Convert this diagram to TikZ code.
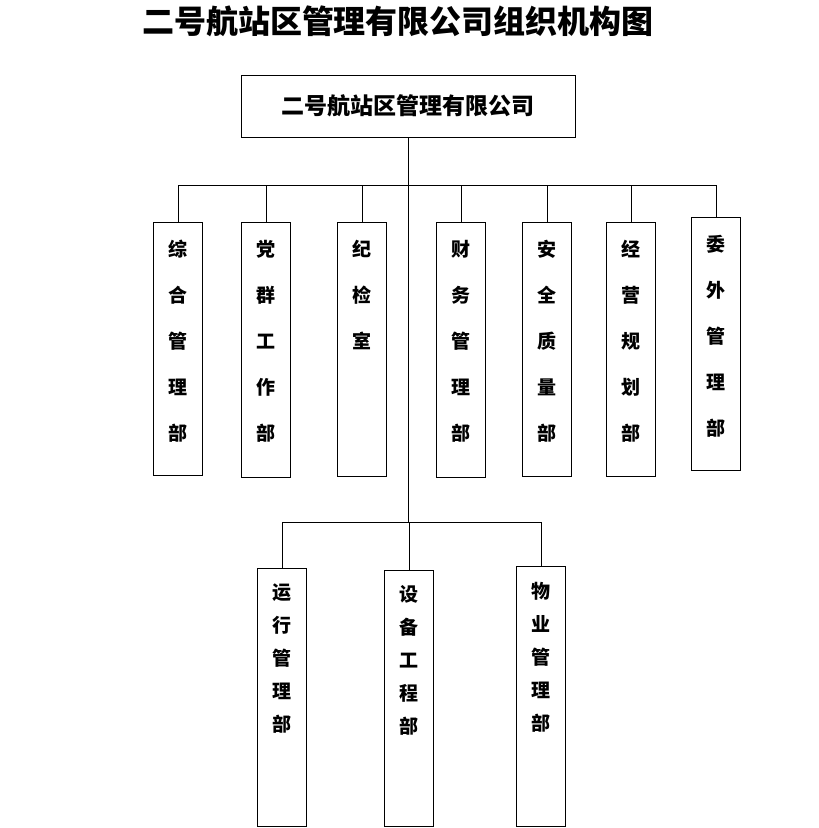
\documentclass[tikz,border=0pt]{standalone}
\usepackage{fontspec}
\newfontfamily\cjk{Noto Sans CJK SC}
\begin{document}
\begin{tikzpicture}[x=1pt,y=-1pt,line width=1pt,
  dept/.style={draw,minimum width=49pt,anchor=north,inner sep=0pt},
  vt/.style={anchor=north,align=center,font=\cjk\fontsize{19}{#1}\selectfont\bfseries}]
\useasboundingbox (0,0) rectangle (819,828);
\node[font=\cjk\fontsize{32}{34}\selectfont\bfseries] (title) at (398,21) {二号航站区管理有限公司组织机构图};
\node[draw,minimum width=334pt,minimum height=62pt,font=\cjk\fontsize{23}{26}\selectfont\bfseries] (top) at (408,106) {二号航站区管理有限公司};
\coordinate (b2) at (408,522);
\draw (top.south) -- (b2);
\draw (178,185) -- (716,185);
\draw (282,522) -- (541,522);
\foreach \n/\x/\t/\h/\txt in {d1/178/222/253/综\\合\\管\\理\\部, d2/266/222/255/党\\群\\工\\作\\部, d3/362/222/254/纪\\检\\室, d4/461/222/255/财\\务\\管\\理\\部, d5/547/222/254/安\\全\\质\\量\\部, d6/631/222/254/经\\营\\规\\划\\部, d7/716/217/253/委\\外\\管\\理\\部}{
  \node[dept,minimum height=\h pt] (\n) at (\x,\t) {};
  \node[vt=46pt] (\n t) at (\x,\t+14) {\txt};
  \draw (\x,185) -- (\n.north);
}
\foreach \n/\x/\t/\txt in {e1/282/568/运\\行\\管\\理\\部, e2/409/570/设\\备\\工\\程\\部, e3/541/566/物\\业\\管\\理\\部}{
  \node[dept,minimum height={826-\t}] (\n) at (\x,\t) {};
  \node[vt=33pt] (\n t) at (\x,\t+12) {\txt};
  \draw (\x,522) -- (\n.north);
}
\end{tikzpicture}
\end{document}
